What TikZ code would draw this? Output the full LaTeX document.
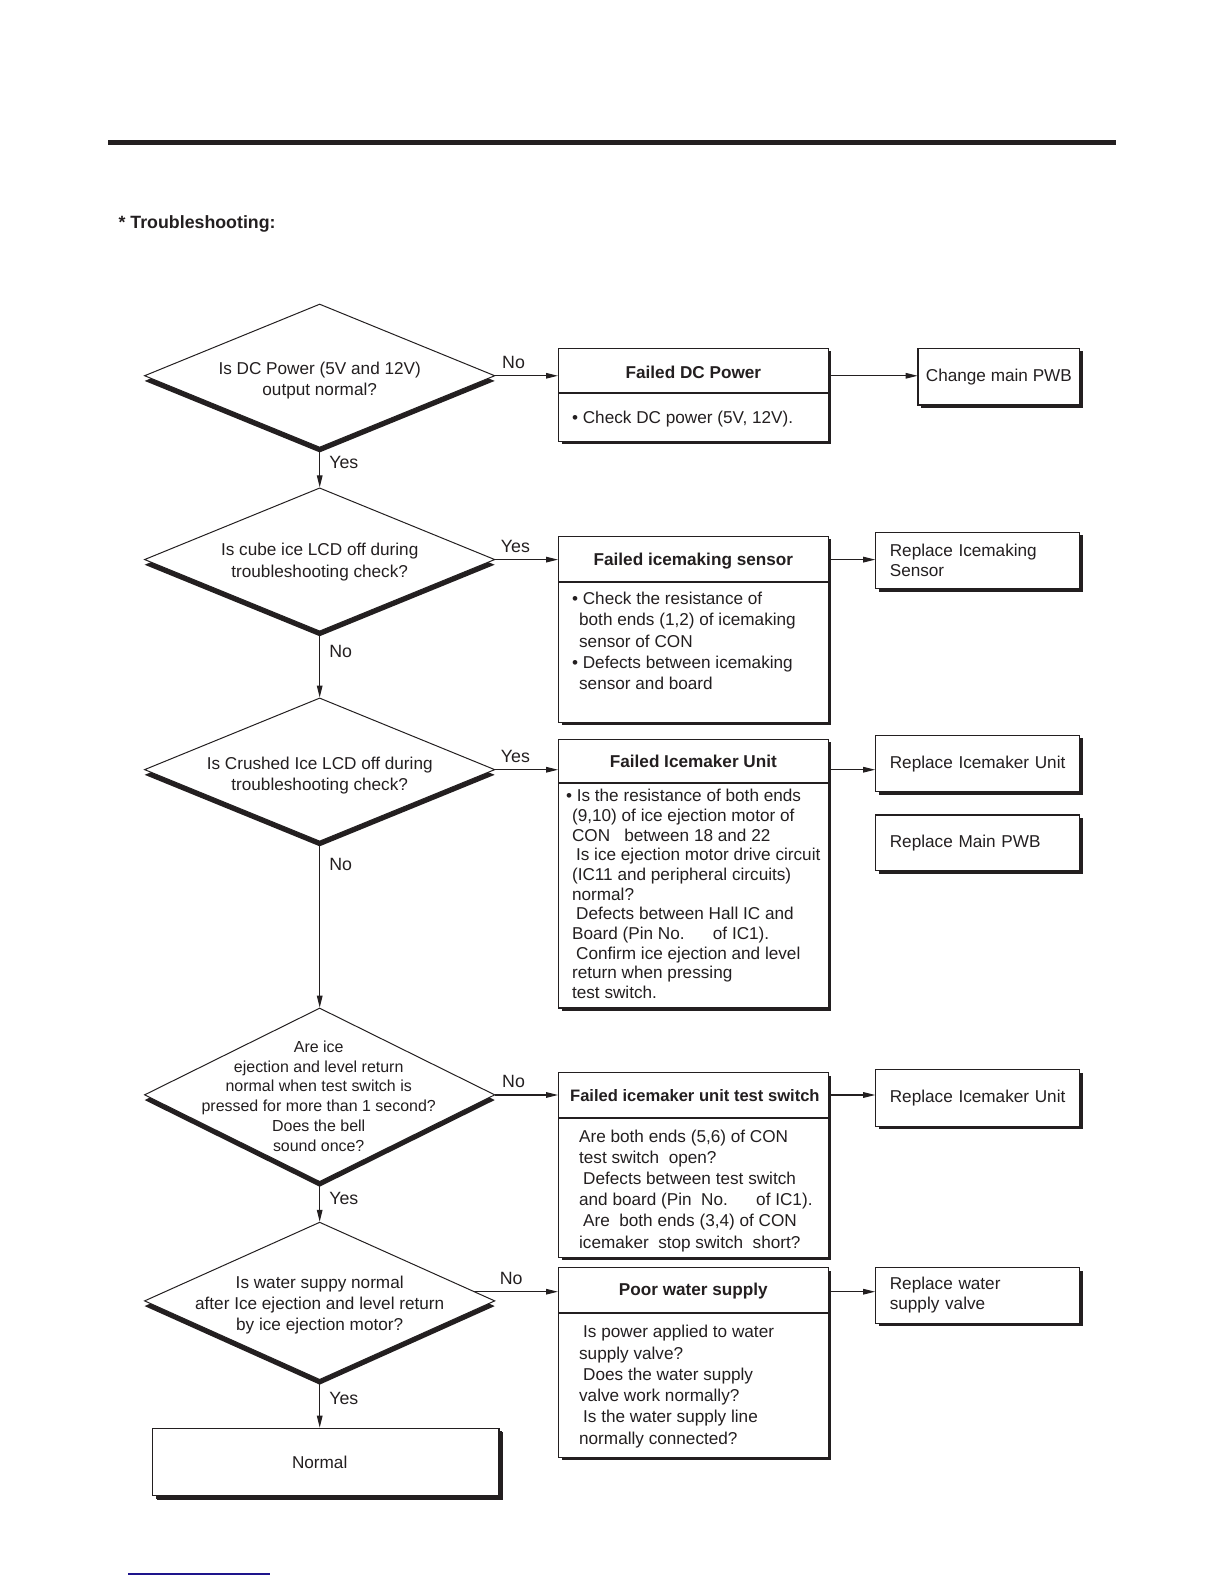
\documentclass[tikz,border=0pt]{standalone}
\usepackage{fontspec}
\setmainfont{Liberation Sans}
\usetikzlibrary{shapes.geometric,shadows,arrows.meta,calc}
\definecolor{ink}{HTML}{231F20}
\definecolor{navyline}{HTML}{1E148C}
\begin{document}
\begin{tikzpicture}[x=0.5pt,y=-0.5pt,scale=1.01,
  every node/.style={inner sep=0pt,text=ink,transform shape},
  dia/.style={shape=diamond,draw=ink,fill=white,line width=0.5pt,minimum width=173.5pt,
    drop shadow={shadow xshift=0pt,shadow yshift=-2.6pt,opacity=1,fill=ink}},
  dtxt/.style={align=center,font=\fontsize{8.5}{10.5}\selectfont},
  box/.style={draw=ink,fill=white,line width=0.6pt,
    drop shadow={shadow xshift=1.5pt,shadow yshift=-1.5pt,opacity=1,fill=ink}},
  bigbox/.style={box,minimum width=133.5pt},
  ttl/.style={font=\bfseries\fontsize{8.5}{10}\selectfont},
  body/.style={align=left,anchor=north west,font=\fontsize{8.5}{10.5}\selectfont},
  rbox/.style={box,minimum height=28pt,align=left,text width=87pt,inner xsep=7pt,
    font=\fontsize{8.5}{10}\selectfont},
  div/.style={draw=ink,line width=1pt},
  arr/.style={draw=ink,line width=0.55pt,-{Triangle[length=6pt,width=2.8pt]}},
  lbl/.style={font=\fontsize{8.8}{10}\selectfont},
  lblh/.style={lbl,anchor=base,yshift=3.5pt},
  lblv/.style={lbl,anchor=west,xshift=4.5pt}
]
\useasboundingbox (0,0) rectangle (1211.88,1568.32);

% header
\draw[ink,line width=2.5pt] (107,141) -- (1105,141);
\node[anchor=west,font=\bfseries\fontsize{8.8}{10}\selectfont] (hdr) at (117,222) {* Troubleshooting:};

% diamonds
\node[dia,minimum height=71pt] (d1) at (316.5,372) {};
\node[dtxt] (q1) at ($(d1.center)+(0,5)$) {Is DC Power (5V and 12V)\\output normal?};
\node[dia,minimum height=71pt] (d2) at (316.5,554) {};
\node[dtxt] (q2) at ($(d2.center)+(0,2.5)$) {Is cube ice LCD off during\\troubleshooting check?};
\node[dia,minimum height=71pt] (d3) at (316.5,762) {};
\node[dtxt] (q3) at ($(d3.center)+(0,5.5)$) {Is Crushed Ice LCD off during\\troubleshooting check?};
\node[dia,minimum height=86pt] (d4) at (316.5,1084) {};
\node[dtxt,font=\fontsize{7.9}{9.8}\selectfont] (q4) at ($(d4.center)+(-1,1)$)
  {Are ice\\ejection and level return\\normal when test switch is\\pressed for more than 1 second?\\Does the bell\\sound once?};
\node[dia,minimum height=78pt] (d5) at (316.5,1288) {};
\node[dtxt] (q5) at ($(d5.center)+(0,4)$) {Is water suppy normal\\after Ice ejection and level return\\by ice ejection motor?};

% normal box
\node[box,minimum width=171.5pt,minimum height=33.5pt,font=\fontsize{8.5}{10}\selectfont,
  drop shadow={shadow xshift=2pt,shadow yshift=-2pt,opacity=1,fill=ink}] (nrm) at (322.5,1447.5) {Normal\hspace*{6pt}};

% failure boxes
\node[bigbox,minimum height=46pt] (b1) at (686.5,391) {};
\draw[div] ($(b1.north west)+(0,45)$) -- ($(b1.north east)+(0,45)$);
\node[ttl] (t1) at (686.5,369) {Failed DC Power};
\node[body] (p1) at (566,407) {• Check DC power (5V, 12V).};

\node[bigbox,minimum height=92pt] (b2) at (686.5,623) {};
\draw[div] ($(b2.north west)+(0,46)$) -- ($(b2.north east)+(0,46)$);
\node[ttl] (t2) at (686.5,556) {Failed icemaking sensor};
\node[body] (p2) at (566,586) {• Check the resistance of\\
\hspace*{3.5pt}both ends (1,2) of icemaking\\
\hspace*{3.5pt}sensor of CON\\
• Defects between icemaking\\
\hspace*{3.5pt}sensor and board};

\node[bigbox,minimum height=133pt] (b3) at (686.5,865) {};
\draw[div] ($(b3.north west)+(0,44)$) -- ($(b3.north east)+(0,44)$);
\node[ttl] (t3) at (686.5,754) {Failed Icemaker Unit};
\node[body,font=\fontsize{8.5}{9.75}\selectfont] (p3) at (560,781) {• Is the resistance of both ends\\
\hspace*{3pt}(9,10) of ice ejection motor of\\
\hspace*{3pt}CON\hspace{7pt}between 18 and 22\\
\hspace*{5pt}Is ice ejection motor drive circuit\\
\hspace*{3pt}(IC11 and peripheral circuits)\\
\hspace*{3pt}normal?\\
\hspace*{5pt}Defects between Hall IC and\\
\hspace*{3pt}Board (Pin No.\hspace{14pt}of IC1).\\
\hspace*{5pt}Confirm ice ejection and level\\
\hspace*{3pt}return when pressing\\
\hspace*{3pt}test switch.};

\node[bigbox,minimum height=91.5pt] (b4) at (686.5,1153.5) {};
\draw[div] ($(b4.north west)+(0,45)$) -- ($(b4.north east)+(0,45)$);
\node[ttl,font=\bfseries\fontsize{8.2}{10}\selectfont] (t4) at (688,1085) {Failed icemaker unit test switch};
\node[body] (p4) at (573,1118) {Are both ends (5,6) of CON\\
test switch\hspace{4.7pt}open?\\
\hspace*{2pt}Defects between test switch\\
and board (Pin\hspace{4.7pt}No.\hspace{14pt}of IC1).\\
\hspace*{2pt}Are\hspace{4.7pt}both ends (3,4) of CON\\
icemaker\hspace{4.7pt}stop switch\hspace{4.7pt}short?};

\node[bigbox,minimum height=94pt] (b5) at (686.5,1349) {};
\draw[div] ($(b5.north west)+(0,45)$) -- ($(b5.north east)+(0,45)$);
\node[ttl] (t5) at (686.5,1278) {Poor water supply};
\node[body] (p5) at (573,1312) {\hspace*{2pt}Is power applied to water\\
supply valve?\\
\hspace*{2pt}Does the water supply\\
valve work normally?\\
\hspace*{2pt}Is the water supply line\\
normally connected?};

% remedy boxes
\node[box,minimum height=28pt,minimum width=80pt,font=\fontsize{8.5}{10}\selectfont] (r1) at (989,373) {Change main PWB};
\node[rbox] (r2) at (968,555) {Replace Icemaking\\Sensor};
\node[rbox] (r3) at (968,756) {Replace Icemaker Unit};
\node[rbox,minimum height=27.5pt] (r3b) at (968,834.5) {Replace Main PWB};
\node[rbox] (r4) at (968,1087) {Replace Icemaker Unit};
\node[rbox,minimum height=27.5pt] (r5) at (968,1282.5) {Replace water\\supply valve};

% connectors
\draw[arr] (d1.east) -- node[lblh,pos=.29]{No} (b1.west |- d1.east);
\draw[arr] (b1.east |- d1.east) -- (r1.west |- d1.east);
\draw[arr] (d1.south) -- node[lblv,pos=.375]{Yes} (d2.north);

\draw[arr] (d2.east) -- node[lblh,pos=.32]{Yes} (b2.west |- d2.east);
\draw[arr] (b2.east |- d2.east) -- (r2.west |- d2.east);
\draw[arr] (d2.south) -- node[lblv,pos=.3]{No} (d3.north);

\draw[arr] (d3.east) -- node[lblh,pos=.32]{Yes} (b3.west |- d3.east);
\draw[arr] (b3.east |- d3.east) -- (r3.west |- d3.east);
\draw[arr] (d3.south) -- node[lblv,pos=.133]{No} (d4.north);

\draw[arr] (d4.east) -- node[lblh,pos=.29]{No} (b4.west |- d4.east);
\draw[arr] (b4.east |- d4.east) -- (r4.west |- d4.east);
\draw[arr] (d4.south) -- node[lblv,pos=.4]{Yes} (d5.north);

\coordinate (c5) at ($(d5.east)!0.12!(d5.north)$);
\draw[arr] (c5) -- node[lblh,pos=.44]{No} (b5.west |- c5);
\draw[arr] (b5.east |- c5) -- (r5.west |- c5);
\draw[arr] (d5.south) -- node[lblv,pos=.375]{Yes} (nrm.north -| d5.south);

% footer rule
\draw[navyline,line width=1pt] (127,1558) -- (267,1558);
\end{tikzpicture}
\end{document}
